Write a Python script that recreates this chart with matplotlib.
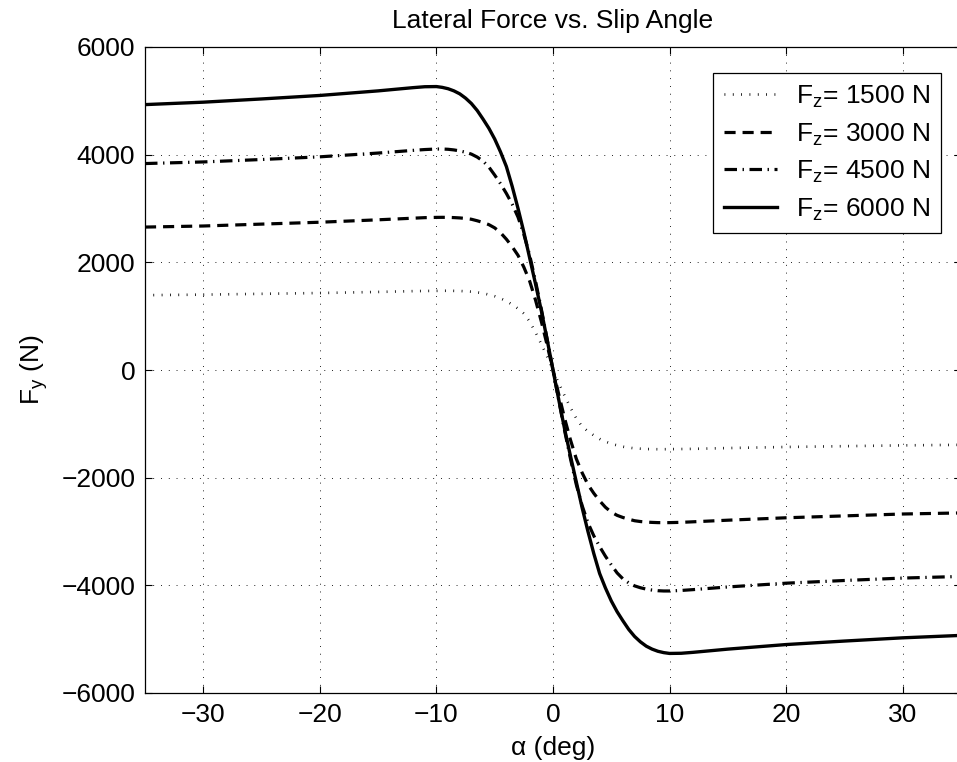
import matplotlib
matplotlib.use("Agg")
import matplotlib.pyplot as plt

# slip angle samples (deg), denser around the knee
alpha = [-35, -30, -25, -20, -15, -12, -11,
         -10, -9.5, -9, -8.5, -8, -7.5, -7, -6.5, -6, -5.5, -5, -4.5, -4, -3.5, -3, -2.5, -2, -1.5, -1, -0.5,
         0,
         0.5, 1, 1.5, 2, 2.5, 3, 3.5, 4, 4.5, 5, 5.5, 6, 6.5, 7, 7.5, 8, 8.5, 9, 9.5, 10,
         11, 12, 15, 20, 25, 30, 35]

# lateral force (N), one list per normal load
fy1500 = [1390, 1400, 1415, 1430, 1450, 1465, 1468,
          1470, 1472, 1472, 1470, 1468, 1462, 1455, 1442, 1425, 1400, 1370, 1330, 1280, 1215, 1140, 1050, 900, 700, 480, 250,
          0,
          -250, -480, -700, -900, -1050, -1140, -1215, -1280, -1330, -1370, -1400, -1425, -1442, -1455, -1462, -1468, -1470, -1472, -1472, -1470,
          -1468, -1465, -1450, -1430, -1415, -1400, -1390]
fy3000 = [2655, 2675, 2710, 2745, 2790, 2820, 2830,
          2835, 2836, 2835, 2831, 2825, 2815, 2800, 2772, 2740, 2700, 2640, 2550, 2430, 2290, 2130, 1910, 1650, 1300, 900, 460,
          0,
          -460, -900, -1300, -1650, -1910, -2130, -2290, -2430, -2550, -2640, -2700, -2740, -2772, -2800, -2815, -2825, -2831, -2835, -2836, -2835,
          -2830, -2820, -2790, -2745, -2710, -2675, -2655]
fy4500 = [3835, 3865, 3910, 3960, 4030, 4080, 4095,
          4105, 4105, 4100, 4088, 4070, 4045, 4010, 3955, 3880, 3770, 3620, 3460, 3280, 3080, 2840, 2520, 2130, 1650, 1130, 570,
          0,
          -570, -1130, -1650, -2130, -2520, -2840, -3080, -3280, -3460, -3620, -3770, -3880, -3955, -4010, -4045, -4070, -4088, -4100, -4105, -4105,
          -4095, -4080, -4030, -3960, -3910, -3865, -3835]
fy6000 = [4930, 4975, 5035, 5100, 5185, 5245, 5262,
          5265, 5250, 5225, 5185, 5130, 5050, 4950, 4820, 4660, 4490, 4290, 4050, 3780, 3410, 3000, 2560, 2080, 1600, 1100, 560,
          0,
          -560, -1100, -1600, -2080, -2560, -3000, -3410, -3780, -4050, -4290, -4490, -4660, -4820, -4950, -5050, -5130, -5185, -5225, -5250, -5265,
          -5262, -5245, -5185, -5100, -5035, -4975, -4930]

loads = ["1500", "3000", "4500", "6000"]

plt.rcParams['font.family'] = ['Liberation Sans', 'DejaVu Sans']
plt.rcParams['mathtext.fontset'] = 'custom'
plt.rcParams['mathtext.rm'] = 'Liberation Sans'
plt.rcParams['lines.scale_dashes'] = False

FS = 19

fig = plt.figure(figsize=(9.57, 7.62), dpi=100)
ax = fig.add_axes([145 / 957, 69 / 762, 816 / 957, 646 / 762])

def lbl(load):
    return "F$_\\mathregular{z}$= " + load + " N"

ax.plot(alpha, fy1500, color='k', lw=1.9, dashes=(0.6, 5.4), label=lbl(loads[0]))
ax.plot(alpha, fy3000, color='k', lw=2.3, dashes=(8, 5), label=lbl(loads[1]))
ax.plot(alpha, fy4500, color='k', lw=2.3, dashes=(9, 4, 1, 4), label=lbl(loads[2]))
ax.plot(alpha, fy6000, color='k', lw=2.4, linestyle='-', label=lbl(loads[3]))

ax.set_xlim(-35, 35)
ax.set_ylim(-6000, 6000)
ax.set_xticks([-30, -20, -10, 0, 10, 20, 30])
ax.set_yticks([-6000, -4000, -2000, 0, 2000, 4000, 6000])

ax.grid(True, color='k', lw=0.7, dashes=(0.6, 5))
ax.tick_params(direction='in', top=True, right=True, length=5, width=0.8, labelsize=FS, pad=7)
for s in ax.spines.values():
    s.set_linewidth(0.9)

ax.set_title("Lateral Force vs. Slip Angle", fontsize=FS, pad=14)
ax.set_xlabel("\u03b1 (deg)", fontsize=FS, va='top')
ax.xaxis.set_label_coords(0.5, -0.066)
ax.set_ylabel("F$_\\mathregular{y}$ (N)", fontsize=FS)
ax.yaxis.set_label_coords(-0.117, 0.5)

leg = ax.legend(loc='upper right', bbox_to_anchor=(941 / 957, 1 - 73 / 762),
                bbox_transform=fig.transFigure, borderaxespad=0, fontsize=FS,
                fancybox=False, framealpha=1, edgecolor='k', handlelength=2.0,
                labelspacing=0.42, handletextpad=0.75, borderpad=0.4)
leg.get_frame().set_linewidth(0.9)

plt.savefig("out.png", dpi=100)
plt.close()
